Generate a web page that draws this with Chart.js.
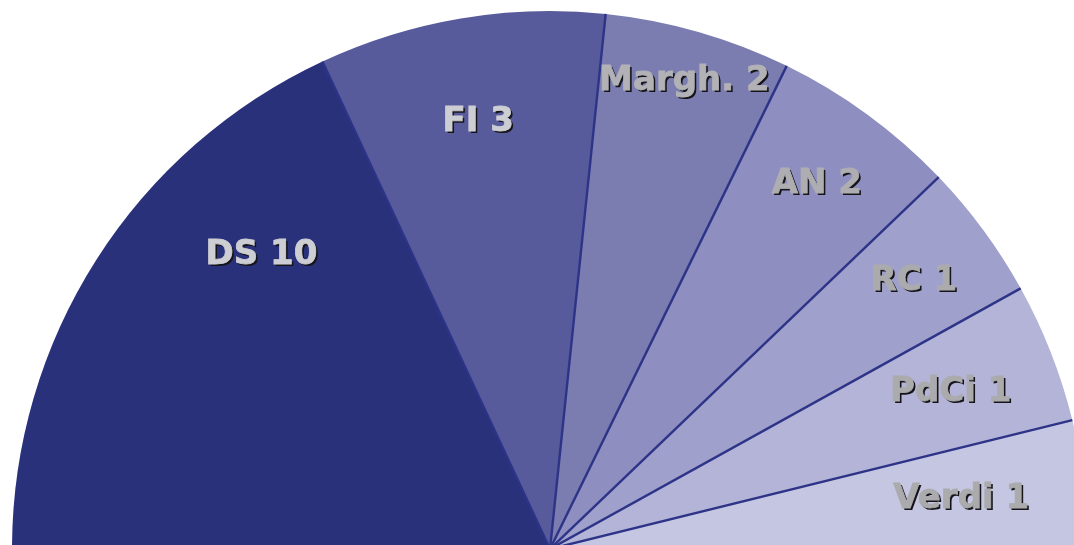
<!DOCTYPE html>
<html>
<head>
<meta charset="utf-8">
<script src="https://cdn.jsdelivr.net/npm/chart.js@4/dist/chart.umd.min.js"></script>
<style>
  html, body { margin: 0; padding: 0; background: #ffffff; overflow: hidden; }
  #wrap { position: relative; width: 1074px; height: 545px; }
</style>
</head>
<body>
<div id="wrap"><canvas id="c"></canvas></div>
<script>
// Parties, seats and share of the half-circle
const parties = ['DS', 'FI', 'Margh.', 'AN', 'RC', 'PdCi', 'Verdi'];
const seats = [10, 3, 2, 2, 1, 1, 1];
const shares = [36.1, 17.2, 11.2, 11.2, 8.2, 8.4, 7.7];

const sliceColors = ['#2a317b', '#585b9b', '#7b7db1', '#8e8fc0', '#9fa0cb', '#b3b4d7', '#c5c6e1'];
const textColors = ['#cdced3', '#cdced3', '#b2b2b6', '#aeaeb2', '#ababae', '#ababae', '#ababae'];
const labelRadius = [0.765, 0.805, 0.905, 0.84, 0.84, 0.80, 0.77];
const labelAngleShift = [13, 0, 0, 0, 0, 0, 0]; // degrees

const separatorPlugin = {
  id: 'separators',
  afterDatasetsDraw(chart, args, opts) {
    const meta = chart.getDatasetMeta(0);
    const ctx = chart.ctx;
    ctx.save();
    ctx.strokeStyle = opts.color;
    ctx.lineWidth = opts.width;
    meta.data.forEach((arc, i) => {
      if (i === 0) return;
      const p = arc.getProps(['x', 'y', 'startAngle', 'outerRadius'], true);
      ctx.beginPath();
      ctx.moveTo(p.x, p.y);
      ctx.lineTo(p.x + Math.cos(p.startAngle) * p.outerRadius, p.y + Math.sin(p.startAngle) * p.outerRadius);
      ctx.stroke();
    });
    ctx.restore();
  }
};

const labelPlugin = {
  id: 'sliceLabels',
  afterDraw(chart) {
    const meta = chart.getDatasetMeta(0);
    const ctx = chart.ctx;
    ctx.save();
    ctx.font = 'bold 34px "DejaVu Sans"';
    ctx.textAlign = 'center';
    ctx.textBaseline = 'middle';
    meta.data.forEach((arc, i) => {
      const p = arc.getProps(['x', 'y', 'startAngle', 'endAngle', 'outerRadius'], true);
      const mid = (p.startAngle + p.endAngle) / 2 + labelAngleShift[i] * Math.PI / 180;
      const r = p.outerRadius * labelRadius[i];
      const tx = p.x + Math.cos(mid) * r;
      const ty = p.y + Math.sin(mid) * r;
      const text = parties[i] + ' ' + seats[i];
      ctx.shadowColor = 'rgba(20,20,25,1)';
      ctx.shadowOffsetX = 2;
      ctx.shadowOffsetY = 2;
      ctx.shadowBlur = 0;
      ctx.fillStyle = textColors[i];
      ctx.fillText(text, tx, ty);
      ctx.shadowColor = 'transparent';
      ctx.lineWidth = 0.8;
      ctx.strokeStyle = textColors[i];
      ctx.strokeText(text, tx, ty);
    });
    ctx.restore();
  }
};

new Chart(document.getElementById('c'), {
  type: 'pie',
  data: {
    labels: parties,
    datasets: [{
      data: shares,
      backgroundColor: sliceColors,
      borderWidth: 0,
      clip: false
    }]
  },
  options: {
    responsive: true,
    maintainAspectRatio: false,
    animation: false,
    rotation: -90,
    circumference: 180,
    radius: 538,
    layout: { padding: { top: 15, left: 26, right: 0, bottom: 0 } },
    plugins: {
      legend: { display: false },
      tooltip: { enabled: false },
      separators: { color: '#2d3488', width: 2.4 }
    }
  },
  plugins: [separatorPlugin, labelPlugin]
});
</script>
</body>
</html>
